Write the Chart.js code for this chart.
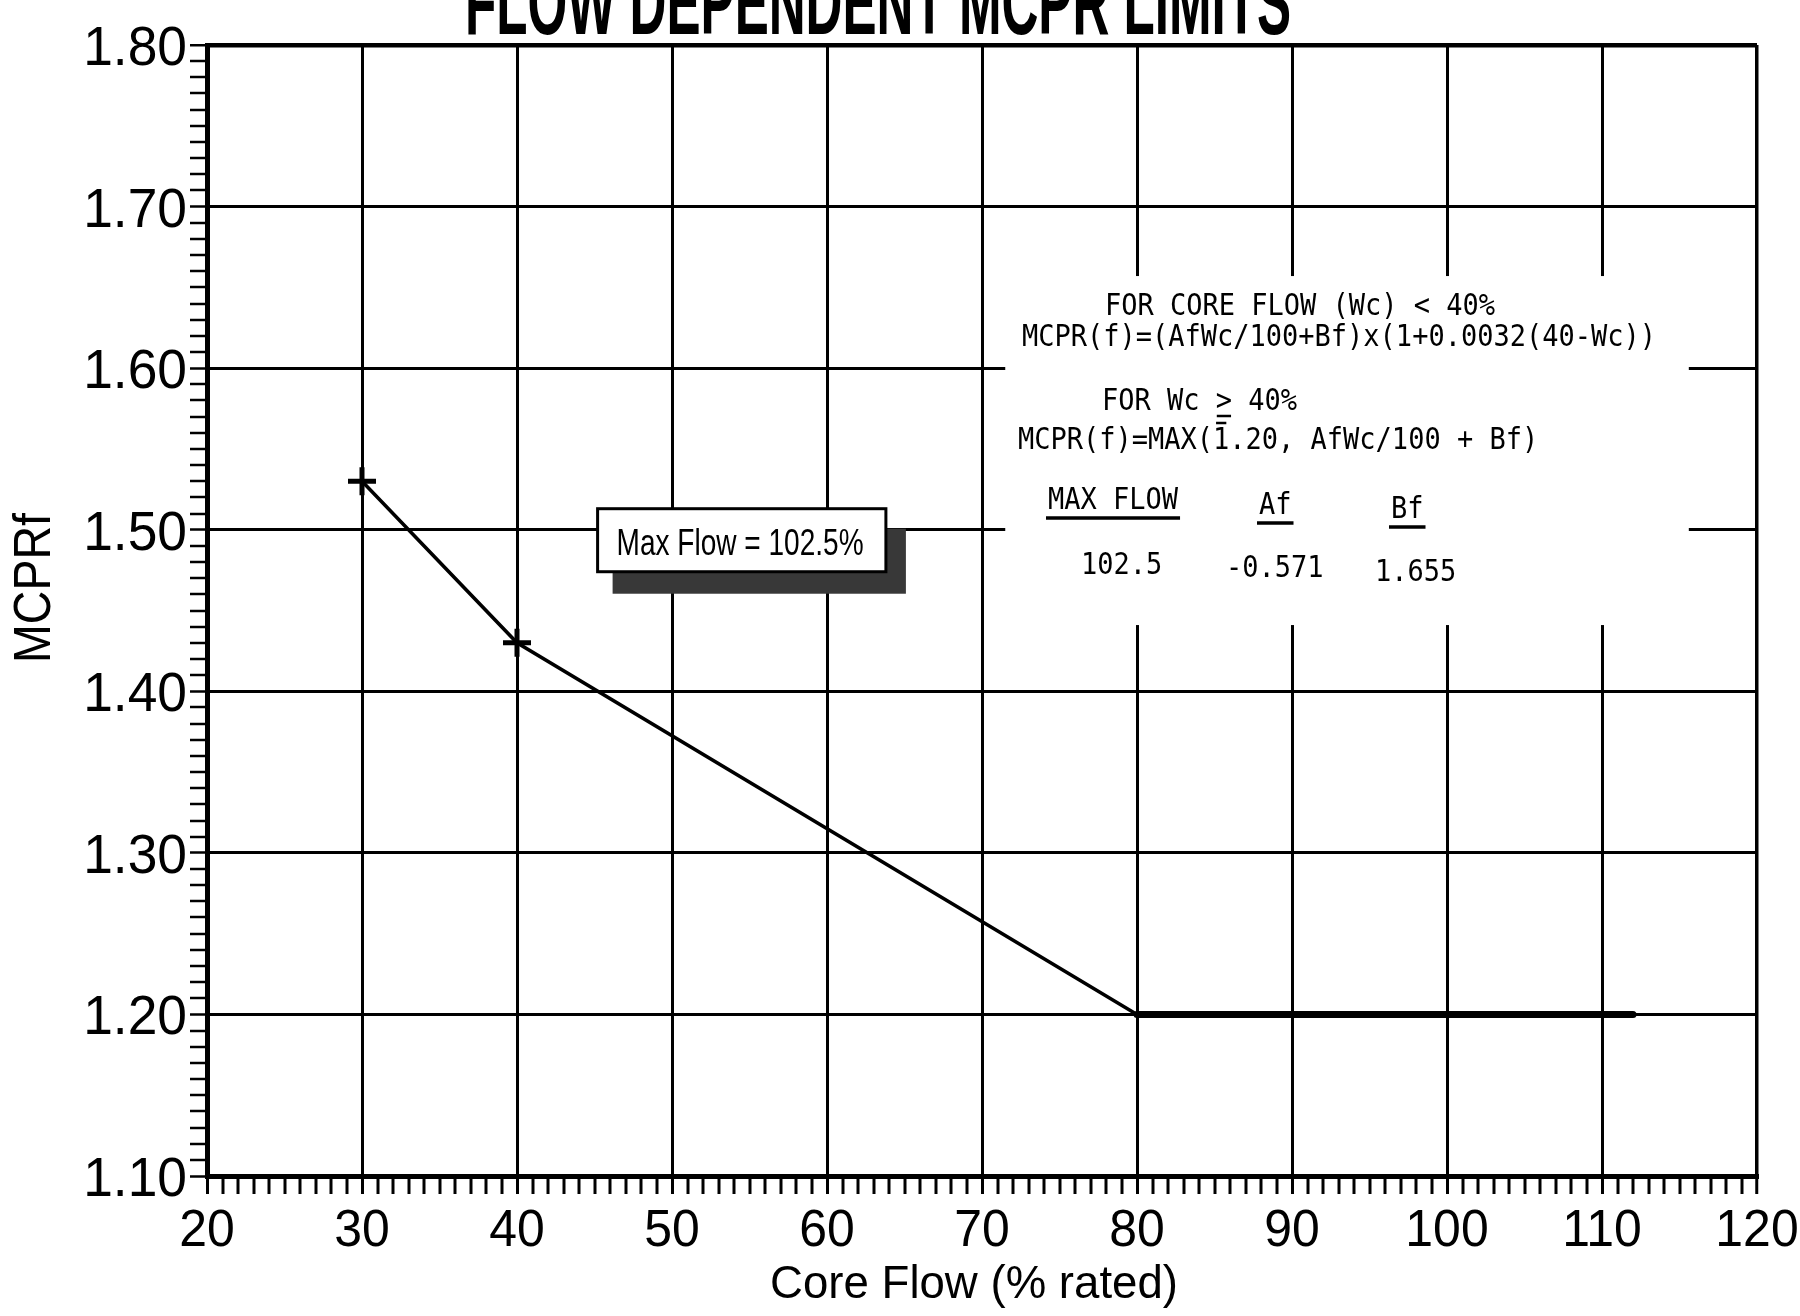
<!DOCTYPE html>
<html>
<head>
<meta charset="utf-8">
<title>Flow Dependent MCPR Limits</title>
<script src="https://cdn.jsdelivr.net/npm/chart.js@4.4.0/dist/chart.umd.min.js"></script>
<style>
  html, body { margin: 0; padding: 0; background: #fff; }
  #wrap { width: 1800px; height: 1316px; position: relative; }
</style>
</head>
<body>
<div id="wrap"><canvas id="chart"></canvas></div>
<script>
// limit curve (Wc < 80 part) and the 1.20 floor
const coreFlow = [30, 40, 80];
const mcprLimit = [1.53, 1.43, 1.20];
const floorFlow = [80, 112];
const floorMcpr = [1.20, 1.20];

const xTickLabels = ['20', '30', '40', '50', '60', '70', '80', '90', '100', '110', '120'];
const yTickLabels = ['1.10', '1.20', '1.30', '1.40', '1.50', '1.60', '1.70', '1.80'];

const chartTitle = 'FLOW DEPENDENT MCPR LIMITS';
const xTitle = 'Core Flow (% rated)';
const yTitle = 'MCPRf';
const maxFlowNote = 'Max Flow = 102.5%';
const formulaLines = [
  'FOR CORE FLOW (Wc) < 40%',
  'MCPR(f)=(AfWc/100+Bf)x(1+0.0032(40-Wc))',
  'FOR Wc > 40%',
  'MCPR(f)=MAX(1.20, AfWc/100 + Bf)'
];
const tableHead = ['MAX FLOW', 'Af', 'Bf'];
const tableRow = ['102.5', '-0.571', '1.655'];

const X_TICK = 18, Y_TICK = 17;

function isMajor(v, step) {
  const r = v / step;
  return Math.abs(r - Math.round(r)) < 1e-6;
}

function squashText(ctx, text, x, y, font, sx, align) {
  ctx.save();
  ctx.font = font;
  ctx.textAlign = align || 'left';
  ctx.textBaseline = 'alphabetic';
  ctx.translate(x, y);
  ctx.scale(sx, 1);
  ctx.fillText(text, 0, 0);
  ctx.restore();
}

function fitText(ctx, text, x, y, font, width, align) {
  ctx.save();
  ctx.font = font;
  const sx = width / ctx.measureText(text).width;
  ctx.restore();
  squashText(ctx, text, x, y, font, sx, align);
}

const decorations = {
  id: 'decorations',
  afterDraw(chart) {
    const ctx = chart.ctx;
    const xs = chart.scales.x, ys = chart.scales.y;
    const area = chart.chartArea;
    ctx.save();
    ctx.fillStyle = '#000';

    // title, cut off by the top of the page like the scan
    fitText(ctx, chartTitle, 878, 34, 'bold 92px "Liberation Sans", Arial, sans-serif', 826, 'center');

    // tick labels
    yTickLabels.forEach(lbl => {
      const py = ys.getPixelForValue(parseFloat(lbl));
      squashText(ctx, lbl, area.left - Y_TICK - 3, py + 20, '55px "Liberation Sans", Arial, sans-serif', 0.97, 'right');
    });
    xTickLabels.forEach(lbl => {
      const px = xs.getPixelForValue(parseFloat(lbl));
      squashText(ctx, lbl, px, area.bottom + 70, '52px "Liberation Sans", Arial, sans-serif', 0.96, 'center');
    });

    // axis titles
    squashText(ctx, xTitle, 974, area.bottom + 122, '47px "Liberation Sans", Arial, sans-serif', 0.97, 'center');
    ctx.save();
    ctx.translate(50, 588);
    ctx.rotate(-Math.PI / 2);
    fitText(ctx, yTitle, 0, 0, '51px "Liberation Sans", Arial, sans-serif', 150, 'center');
    ctx.restore();

    // Max Flow note with drop shadow
    const bx1 = xs.getPixelForValue(45.2), bx2 = xs.getPixelForValue(63.8);
    const by1 = ys.getPixelForValue(1.513), by2 = ys.getPixelForValue(1.474);
    ctx.fillStyle = '#383838';
    ctx.fillRect(bx1 + 15, by1 + 20, bx2 - bx1 + 5, by2 - by1 + 2);
    ctx.fillStyle = '#fff';
    ctx.fillRect(bx1, by1, bx2 - bx1, by2 - by1);
    ctx.strokeStyle = '#000';
    ctx.lineWidth = 3;
    ctx.strokeRect(bx1, by1, bx2 - bx1, by2 - by1);
    ctx.fillStyle = '#000';
    fitText(ctx, maxFlowNote, bx1 + 19, by1 + 46, '37px "Liberation Sans", Arial, sans-serif', 247, 'left');

    // formula block, white background hides the grid behind it
    const fx1 = xs.getPixelForValue(71.5), fx2 = xs.getPixelForValue(115.6);
    const fy1 = ys.getPixelForValue(1.657), fy2 = ys.getPixelForValue(1.441);
    ctx.fillStyle = '#fff';
    ctx.fillRect(fx1, fy1, fx2 - fx1, fy2 - fy1);
    ctx.fillStyle = '#000';
    const mono = '30px "DejaVu Sans Mono", "Liberation Mono", monospace';
    const sx = 0.9;
    ctx.font = mono;
    const cw = ctx.measureText('M').width * sx;
    squashText(ctx, formulaLines[0], 1105, 315, mono, sx);
    squashText(ctx, formulaLines[1], 1022, 346, mono, sx);
    squashText(ctx, formulaLines[2], 1102, 410, mono, sx);
    squashText(ctx, formulaLines[3], 1018, 449, mono, sx);
    ctx.strokeStyle = '#000';
    ctx.lineWidth = 2.5;
    ctx.beginPath();
    // underline under ">" makes it read as >=
    ctx.moveTo(1102 + 7 * cw + 1, 416); ctx.lineTo(1102 + 8 * cw - 1, 416);
    // bar over the 1 of 1.20
    ctx.moveTo(1018 + 12 * cw + 3, 423); ctx.lineTo(1018 + 13 * cw - 3, 423);
    ctx.stroke();

    const headX = [1048, 1259, 1391];
    const headY = [509, 514, 518];
    const rowX = [1081, 1226, 1375];
    const rowY = [574, 577, 581];
    ctx.lineWidth = 3.5;
    tableHead.forEach((h, i) => {
      squashText(ctx, h, headX[i], headY[i], mono, sx);
      ctx.beginPath();
      ctx.moveTo(headX[i] - 2, headY[i] + 9);
      ctx.lineTo(headX[i] + h.length * cw + 2, headY[i] + 9);
      ctx.stroke();
    });
    tableRow.forEach((v, i) => squashText(ctx, v, rowX[i], rowY[i], mono, sx));
    ctx.restore();
  }
};

new Chart(document.getElementById('chart'), {
  type: 'line',
  data: {
    datasets: [
      {
        label: 'MCPR(f)',
        data: coreFlow.map((x, i) => ({ x: x, y: mcprLimit[i] })),
        borderColor: '#000',
        borderWidth: 3.5,
        pointStyle: 'cross',
        pointRadius: coreFlow.map(x => x < 80 ? 14 : 0),
        pointBorderWidth: 5,
        pointBorderColor: '#000',
        fill: false,
        tension: 0
      },
      {
        label: 'MCPR(f) floor',
        data: floorFlow.map((x, i) => ({ x: x, y: floorMcpr[i] })),
        borderColor: '#000',
        borderWidth: 7,
        borderCapStyle: 'round',
        pointRadius: 0,
        fill: false
      }
    ]
  },
  options: {
    responsive: true,
    maintainAspectRatio: false,
    animation: false,
    layout: { padding: { left: 190, right: 43, top: 45, bottom: 122 } },
    plugins: { legend: { display: false }, tooltip: { enabled: false }, title: { display: false } },
    scales: {
      x: {
        type: 'linear',
        min: 20,
        max: 120,
        ticks: { display: false, stepSize: 1, autoSkip: false },
        grid: {
          color: c => isMajor(c.tick.value, 10) ? '#000' : 'rgba(0,0,0,0)',
          lineWidth: c => c.tick.value === 120 ? 3.5 : (isMajor(c.tick.value, 10) ? 3 : 0),
          tickColor: '#000',
          tickWidth: 3,
          tickLength: X_TICK,
          drawTicks: true
        },
        border: { display: true, color: '#000', width: 5 }
      },
      y: {
        type: 'linear',
        min: 1.1,
        max: 1.8,
        ticks: { display: false, stepSize: 0.01, autoSkip: false },
        grid: {
          color: c => isMajor(c.tick.value, 0.1) ? '#000' : 'rgba(0,0,0,0)',
          lineWidth: c => Math.abs(c.tick.value - 1.8) < 1e-6 ? 4.5 : (isMajor(c.tick.value, 0.1) ? 3 : 0),
          tickColor: '#000',
          tickWidth: 2.5,
          tickLength: Y_TICK,
          drawTicks: true
        },
        border: { display: true, color: '#000', width: 5 }
      }
    }
  },
  plugins: [decorations]
});
</script>
</body>
</html>
